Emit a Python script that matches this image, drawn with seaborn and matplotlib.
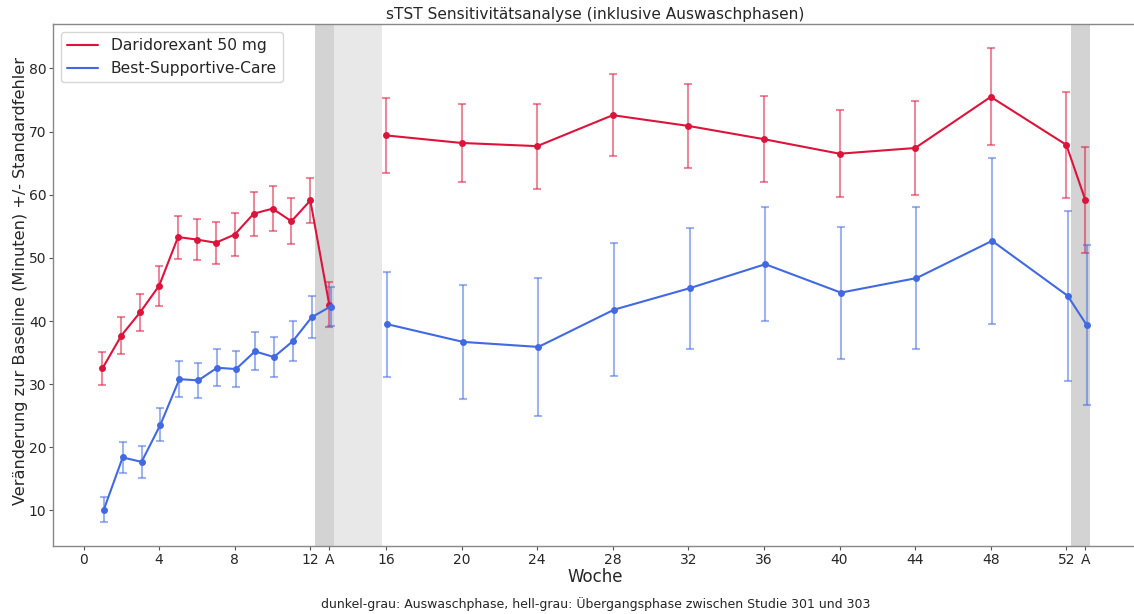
import numpy as np
import pandas as pd
import matplotlib
matplotlib.use("Agg")
import matplotlib.pyplot as plt
import seaborn as sns

# Visit weeks (13 and 53 are the follow-up visits "A" after the washout)
weeks = [1, 2, 3, 4, 5, 6, 7, 8, 9, 10, 11, 12, 13,
         16, 20, 24, 28, 32, 36, 40, 44, 48, 52, 53]
# Study segment of each visit: 301 (weeks 1-A) and 303 (weeks 16-A)
segments = ["301"] * 13 + ["303"] * 11

# Mean change from baseline (minutes)
dari_mean = [32.5, 37.7, 41.4, 45.6, 53.3, 52.9, 52.4, 53.7, 57.0, 57.8, 55.8, 59.1, 42.6,
             69.4, 68.2, 67.7, 72.6, 70.9, 68.8, 66.5, 67.4, 75.5, 67.9, 59.2]
dari_se = [2.6, 2.9, 2.95, 3.15, 3.4, 3.3, 3.35, 3.4, 3.5, 3.6, 3.65, 3.6, 3.6,
           6.0, 6.15, 6.75, 6.5, 6.7, 6.8, 6.9, 7.5, 7.7, 8.45, 8.4]

bsc_mean = [10.1, 18.4, 17.7, 23.6, 30.8, 30.6, 32.6, 32.4, 35.2, 34.3, 36.8, 40.6, 42.3,
            39.5, 36.7, 35.9, 41.8, 45.2, 49.0, 44.5, 46.8, 52.7, 44.0, 39.4]
bsc_se = [2.0, 2.4, 2.55, 2.6, 2.8, 2.8, 2.95, 2.9, 3.0, 3.15, 3.15, 3.3, 3.15,
          8.3, 9.05, 10.9, 10.55, 9.55, 9.05, 10.45, 11.3, 13.1, 13.5, 12.7]

groups = ["Daridorexant 50 mg", "Best-Supportive-Care"]

tick_pos = [0, 4, 8, 12, 13, 16, 20, 24, 28, 32, 36, 40, 44, 48, 52, 53]
tick_labels = ["0", "4", "8", "12", "A", "16", "20", "24", "28", "32", "36",
               "40", "44", "48", "52", "A"]

washout_spans = [(12.25, 13.25), (52.25, 53.25)]
transition_span = (13.25, 15.8)

colors = {"Daridorexant 50 mg": "#DC143C", "Best-Supportive-Care": "#4169E1"}
offsets = {"Daridorexant 50 mg": 0.0, "Best-Supportive-Care": 0.07}

sns.set_style("white")
plt.rcParams["font.family"] = ["DejaVu Sans"]

rows = []
for g, m, s in [(groups[0], dari_mean, dari_se), (groups[1], bsc_mean, bsc_se)]:
    for w, seg, mv, sv in zip(weeks, segments, m, s):
        rows.append({"Woche": w + offsets[g], "Wert": mv, "SE": sv,
                     "Gruppe": g, "Abschnitt": g + seg})
df = pd.DataFrame(rows)

fig = plt.figure(figsize=(11.34, 6.14), dpi=100)
ax = fig.add_axes([0.047, 0.111, 0.955, 0.8495])

for a, b in washout_spans:
    ax.axvspan(a, b, color="#d3d3d3", lw=0, zorder=0)
ax.axvspan(*transition_span, color="#e8e8e8", lw=0, zorder=0)

for g in groups:
    sub = df[df["Gruppe"] == g]
    ax.errorbar(sub["Woche"], sub["Wert"], yerr=sub["SE"], fmt="none",
                ecolor=colors[g], elinewidth=1.5, capsize=2.8, capthick=1.5,
                alpha=0.5, zorder=2)

sns.lineplot(data=df, x="Woche", y="Wert", hue="Gruppe", units="Abschnitt",
             estimator=None, palette=colors, hue_order=groups, marker="o",
             markersize=5, markeredgewidth=0, linewidth=1.5, ax=ax, zorder=3,
             legend=False, sort=True)

handles = [plt.Line2D([], [], color=colors[g], lw=1.5) for g in groups]
ax.legend(handles, groups, loc="upper left", fontsize=11.2, frameon=True)

ax.set_xlim(-1.6, 55.7)
ax.set_ylim(4.4, 87.0)
ax.set_xticks(tick_pos)
ax.set_xticklabels(tick_labels, fontsize=10)
ax.set_yticks([10, 20, 30, 40, 50, 60, 70, 80])
ax.tick_params(axis="y", labelsize=10)
ax.tick_params(axis="both", length=3, width=0.8, pad=2, color="#555555",
               bottom=True, left=True)
for sp in ax.spines.values():
    sp.set_color("#888888")
    sp.set_linewidth(1.0)

ax.set_xlabel("Woche", fontsize=12, labelpad=1)
ax.set_ylabel("Veränderung zur Baseline (Minuten) +/- Standardfehler",
              fontsize=11.6, labelpad=1)
ax.yaxis.set_label_coords(-0.0232, 0.508)
ax.set_title("sTST Sensitivitätsanalyse (inklusive Auswaschphasen)",
             fontsize=11.1, pad=4)

fig.text(0.525, 0.016,
         "dunkel-grau: Auswaschphase, hell-grau: Übergangsphase zwischen Studie 301 und 303",
         ha="center", va="center", fontsize=9)

fig.savefig("out.png", dpi=100)
